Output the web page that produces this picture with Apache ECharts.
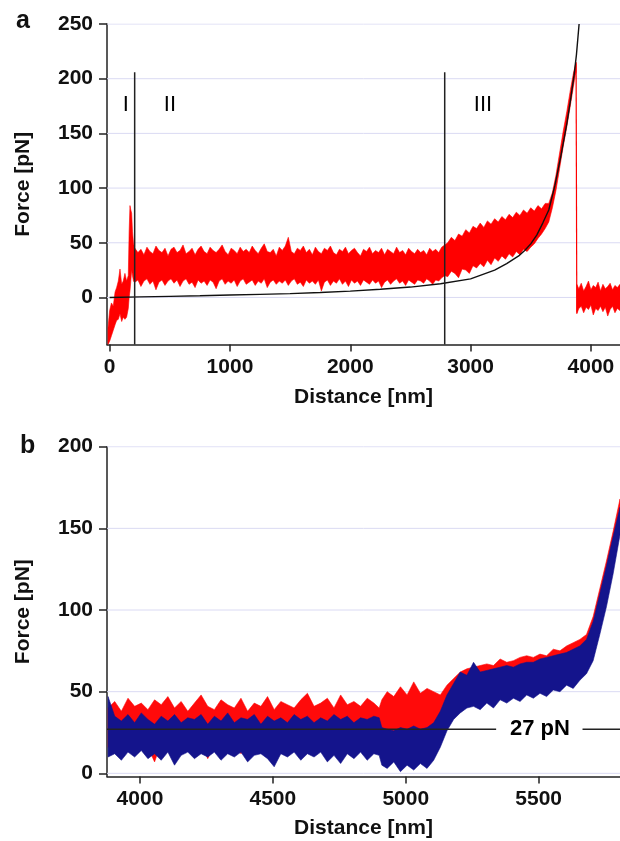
<!DOCTYPE html>
<html><head><meta charset="utf-8">
<script src="https://cdn.jsdelivr.net/npm/echarts@6/dist/echarts.min.js"></script>
<style>html,body{margin:0;padding:0;background:#fff}#c{width:620px;height:841px}</style>
</head><body><div id="c"></div>
<script>
// ---------- Panel a ----------
const aXTicks = [0, 1000, 2000, 3000, 4000];
const aYTicks = [0, 50, 100, 150, 200, 250];
// red trace, envelope of the noisy signal: [distance nm, lower pN, upper pN]
const aRed = [
  [-14, -43, -28], [0, -40, -12], [15, -35, -5], [30, -30, -8], [45, -25, 5], [58, -21, 9], [72, -20, 15],
  [86, -15, 26], [100, -22, 12], [113, -18, 15], [127, -20, 22], [141, -18, 15], [155, -10, 20], [162, 0, 60],
  [169, 6, 84], [176, 15, 80], [183, 25, 77], [190, 20, 60], [198, 15, 50], [205, 14, 46],
  [210, 14, 45], [235, 16, 41], [260, 10, 44], [285, 15, 39], [310, 17, 46], [335, 12, 42], [360, 15, 40],
  [385, 7, 47], [410, 14, 43], [435, 16, 41], [460, 11, 45], [485, 15, 38], [510, 17, 44], [535, 13, 46],
  [560, 16, 41], [585, 10, 43], [610, 15, 48], [635, 17, 40], [660, 12, 42], [685, 14, 45], [710, 9, 39],
  [735, 16, 44], [760, 13, 47], [785, 15, 42], [810, 11, 40], [835, 16, 46], [860, 14, 43], [885, 8, 41],
  [910, 15, 44], [935, 17, 48], [960, 12, 42], [985, 15, 39], [1010, 13, 45], [1035, 16, 43], [1060, 10, 40],
  [1085, 15, 46], [1110, 17, 42], [1135, 12, 44], [1160, 14, 41], [1185, 16, 47], [1210, 11, 43], [1235, 15, 40],
  [1260, 13, 45], [1285, 17, 49], [1310, 9, 42], [1335, 14, 41], [1360, 16, 44], [1385, 12, 38], [1410, 15, 46],
  [1435, 13, 43], [1460, 16, 47], [1485, 11, 55], [1510, 15, 42], [1535, 17, 40], [1560, 12, 45], [1585, 14, 43],
  [1610, 10, 47], [1635, 16, 41], [1660, 13, 44], [1685, 15, 39], [1710, 12, 46], [1735, 16, 42], [1760, 6, 40],
  [1785, 14, 45], [1810, 16, 43], [1835, 11, 47], [1860, 15, 41], [1885, 13, 39], [1910, 17, 44], [1935, 12, 42],
  [1960, 15, 46], [1985, 10, 40], [2010, 16, 43], [2035, 13, 45], [2060, 15, 41], [2085, 11, 38], [2110, 16, 44],
  [2135, 14, 42], [2160, 12, 46], [2185, 16, 40], [2210, 13, 43], [2235, 15, 41], [2260, 9, 45], [2285, 14, 39],
  [2310, 16, 44], [2335, 12, 42], [2360, 15, 40], [2385, 17, 46], [2410, 13, 41], [2435, 15, 43], [2460, 11, 39],
  [2485, 16, 45], [2510, 14, 42], [2535, 12, 40], [2560, 16, 44], [2585, 15, 41], [2610, 13, 43], [2635, 17, 39],
  [2660, 15, 45], [2685, 12, 42], [2710, 16, 44], [2735, 15, 41], [2760, 18, 46], [2785, 20, 48],
  [2810, 19, 50], [2840, 24, 55], [2870, 22, 52], [2900, 18, 58], [2930, 26, 56], [2960, 25, 62], [2990, 22, 59],
  [3020, 29, 65], [3050, 27, 63], [3080, 31, 68], [3110, 28, 64], [3140, 34, 70], [3170, 30, 67], [3200, 36, 72],
  [3230, 33, 69], [3260, 38, 74], [3290, 35, 71], [3320, 40, 76], [3350, 37, 73], [3380, 42, 78], [3410, 39, 75],
  [3440, 44, 80], [3470, 42, 77], [3500, 46, 82], [3530, 49, 79], [3560, 54, 84], [3590, 58, 81], [3620, 63, 86],
  [3650, 69, 86], [3680, 82, 96], [3710, 98, 112], [3740, 118, 132], [3770, 138, 152], [3800, 156, 170],
  [3830, 176, 190], [3855, 193, 205], [3870, 203, 212], [3878, 206, 215]];
// vertical drop at the rupture
const aDrop = [[3877, 214], [3883, -14]];
// signal after the rupture: [distance, lower, upper]
const aPost = [
  [3883, -15, 12], [3900, -10, 8], [3920, -8, 13], [3940, -14, 6], [3960, -9, 10], [3980, -11, 15], [4000, -7, 7],
  [4020, -16, 11], [4040, -10, 9], [4060, -12, 14], [4080, -8, 6], [4100, -13, 12], [4120, -9, 8], [4140, -17, 10],
  [4160, -11, 13], [4180, -8, 7], [4200, -14, 11], [4220, -10, 9], [4242, -12, 12]];
// black fit curve
const aFitX = [0, 250, 500, 750, 1000, 1250, 1500, 1750, 2000, 2250, 2500, 2750, 3000, 3200, 3300, 3400, 3450, 3500, 3550, 3600, 3650, 3700, 3750, 3800, 3830, 3860, 3880, 3902];
const aFitY = [0, 0.5, 1, 1.5, 2.2, 2.8, 3.5, 4.5, 5.8, 7.5, 9.5, 12.5, 17, 25, 31, 38, 43, 49, 57, 68, 80, 102, 129, 159, 180, 203, 222, 250];
// region boundaries and labels
const aBounds = [208, 2785];
const aBoundTop = 206;
const aRegionLabels = ['I', 'II', 'III'];
const aRegionX = [135, 501, 3103];
const aRegionY = 176;

// ---------- Panel b ----------
const bXTicks = [4000, 4500, 5000, 5500];
const bYTicks = [0, 50, 100, 150, 200];
// red trace envelope: [distance, lower, upper]
const bRed = [
  [3880, 16, 40], [3905, 18, 44], [3930, 15, 38], [3955, 19, 46], [3980, 17, 41], [4005, 18, 43], [4030, 16, 39],
  [4055, 7, 45], [4080, 19, 42], [4105, 17, 47], [4130, 18, 40], [4155, 16, 44], [4180, 19, 38], [4205, 17, 43],
  [4230, 18, 48], [4255, 9, 41], [4280, 17, 39], [4305, 19, 45], [4330, 16, 42], [4355, 18, 40], [4380, 12, 46],
  [4405, 17, 38], [4430, 19, 43], [4455, 16, 41], [4480, 18, 47], [4505, 17, 39], [4530, 19, 44], [4555, 12, 42],
  [4580, 18, 40], [4605, 16, 45], [4630, 19, 49], [4655, 17, 41], [4680, 18, 43], [4705, 16, 46], [4730, 19, 40],
  [4755, 17, 48], [4780, 18, 42], [4805, 16, 44], [4830, 19, 41], [4855, 17, 46], [4880, 18, 43], [4900, 17, 40],
  [4910, 25, 45], [4930, 24, 50], [4955, 26, 47], [4980, 23, 53], [5005, 25, 48], [5030, 24, 56], [5055, 26, 49],
  [5080, 25, 52], [5105, 27, 50], [5130, 30, 48], [5155, 34, 54], [5180, 38, 58], [5205, 42, 62], [5230, 43, 64],
  [5255, 44, 65], [5280, 44, 66], [5305, 45, 67], [5330, 46, 66], [5355, 46, 70], [5380, 47, 68], [5405, 48, 69],
  [5430, 49, 71], [5455, 50, 72], [5480, 50, 71], [5505, 51, 73], [5530, 52, 72], [5555, 53, 76], [5580, 54, 75],
  [5605, 56, 78], [5630, 57, 80], [5655, 59, 82], [5680, 63, 85], [5705, 73, 96], [5730, 88, 113],
  [5755, 106, 130], [5780, 126, 148], [5806, 150, 168]];
// blue trace envelope: [distance, lower, upper]
const bBlue = [
  [3880, 10, 47], [3905, 12, 35], [3930, 8, 32], [3955, 13, 36], [3980, 10, 31], [4005, 14, 37], [4030, 9, 33],
  [4055, 12, 30], [4080, 8, 35], [4105, 13, 32], [4130, 5, 36], [4155, 11, 31], [4180, 13, 34], [4205, 9, 33],
  [4230, 12, 36], [4255, 10, 30], [4280, 13, 35], [4305, 8, 32], [4330, 12, 37], [4355, 10, 31], [4380, 13, 34],
  [4405, 7, 33], [4430, 11, 36], [4455, 12, 30], [4480, 9, 35], [4505, 4, 32], [4530, 12, 34], [4555, 10, 31],
  [4580, 13, 36], [4605, 8, 33], [4630, 12, 35], [4655, 10, 31], [4680, 13, 34], [4705, 7, 32], [4730, 11, 36],
  [4755, 6, 33], [4780, 12, 35], [4805, 9, 31], [4830, 13, 34], [4855, 8, 33], [4880, 12, 35], [4900, 11, 34],
  [4910, 5, 28], [4930, 3, 27], [4955, 7, 26], [4980, 1, 28], [5005, 5, 27], [5030, 2, 29], [5055, 6, 27],
  [5080, 3, 28], [5105, 8, 31], [5130, 16, 38], [5155, 26, 48], [5180, 33, 55], [5205, 37, 62], [5230, 40, 60],
  [5255, 41, 68], [5280, 39, 62], [5305, 43, 63], [5330, 40, 64], [5355, 45, 65], [5380, 43, 66], [5405, 46, 65],
  [5430, 44, 67], [5455, 48, 68], [5480, 46, 68], [5505, 49, 70], [5530, 47, 71], [5555, 51, 72], [5580, 50, 73],
  [5605, 54, 74], [5630, 52, 76], [5655, 57, 78], [5680, 61, 82], [5705, 69, 93], [5730, 85, 110],
  [5755, 102, 127], [5780, 122, 145], [5806, 146, 163]];
const bRefForce = 27;
const bRefSegments = [[3876, 5340], [5665, 5806]];
const bRefLabel = '27 pN';
const bRefLabelX = 5505;

const FONT = 'Liberation Sans, Arial, Helvetica, sans-serif';
const GRID_COLOR = '#dadaf3';

function band(rows, color, idx, z) {
  return {
    type: 'custom', xAxisIndex: idx, yAxisIndex: idx, z: z, silent: true, clip: true,
    encode: { x: 0, y: [1, 2] },
    data: rows,
    renderItem: function (params, api) {
      if (params.dataIndex !== 0) return null;
      const top = [], bot = [];
      for (let i = 0; i < rows.length; i++) {
        top.push(api.coord([rows[i][0], rows[i][2]]));
        bot.push(api.coord([rows[i][0], rows[i][1]]));
      }
      return { type: 'polygon', shape: { points: top.concat(bot.reverse()) },
        style: { fill: color, stroke: color, lineWidth: 0.6 } };
    }
  };
}
function lineS(pts, idx, color, width, z) {
  return { type: 'line', xAxisIndex: idx, yAxisIndex: idx, data: pts, showSymbol: false, symbol: 'none',
    silent: true, z: z, lineStyle: { color: color, width: width }, animation: false };
}
// text anchored at data coordinates
function textS(idx, pts, texts, size, weight) {
  return {
    type: 'custom', xAxisIndex: idx, yAxisIndex: idx, z: 10, silent: true,
    data: pts.map((p, i) => [p[0], p[1], i]),
    renderItem: function (params, api) {
      const c = api.coord([api.value(0), api.value(1)]);
      return { type: 'text', x: c[0], y: c[1],
        style: { text: texts[api.value(2)], fill: '#000', align: 'center', verticalAlign: 'middle',
          font: weight + ' ' + size + 'px ' + FONT } };
    }
  };
}
const plain = v => String(v);
function xAxis(idx, min, max, ticks, gap) {
  return { type: 'value', gridIndex: idx, min: min, max: max, name: 'Distance [nm]', nameLocation: 'middle',
    nameGap: gap, nameTextStyle: { fontFamily: FONT, fontSize: 21, fontWeight: 'bold', color: '#111' },
    axisLine: { show: true, onZero: false, lineStyle: { color: '#222', width: 1.5 } },
    axisTick: { show: true, length: 7, customValues: ticks, lineStyle: { color: '#222', width: 1.5 } },
    axisLabel: { customValues: ticks, formatter: plain, margin: 12, fontFamily: FONT, fontSize: 21, fontWeight: 'bold', color: '#111' },
    splitLine: { show: false } };
}
function yAxis(idx, min, max, ticks) {
  return { type: 'value', gridIndex: idx, min: min, max: max, name: 'Force [pN]', nameLocation: 'middle',
    nameRotate: 90, nameGap: 73, nameTextStyle: { fontFamily: FONT, fontSize: 21, fontWeight: 'bold', color: '#111' },
    axisLine: { show: true, onZero: false, lineStyle: { color: '#222', width: 1.5 } },
    axisTick: { show: true, length: 8, customValues: ticks, lineStyle: { color: '#222', width: 1.5 } },
    axisLabel: { customValues: ticks, formatter: plain, margin: 14, fontFamily: FONT, fontSize: 21, fontWeight: 'bold', color: '#111' },
    splitLine: { show: false } };
}

const series = [];
// horizontal grid lines (behind the traces)
aYTicks.forEach(v => series.push(lineS([[-22, v], [4242, v]], 0, GRID_COLOR, 1, 0)));
bYTicks.forEach(v => series.push(lineS([[3876, v], [5806, v]], 1, GRID_COLOR, 1, 0)));
// panel a
series.push(band(aRed, '#ff0000', 0, 3));
series.push(lineS(aDrop, 0, '#ff0000', 1.2, 3));
series.push(band(aPost, '#ff0000', 0, 3));
series.push(lineS(aFitX.map((x, i) => [x, aFitY[i]]), 0, '#111111', 1.4, 5));
aBounds.forEach(b => series.push(lineS([[b, -43], [b, aBoundTop]], 0, '#222222', 1.5, 5)));
series.push(textS(0, aRegionX.map(x => [x, aRegionY]), aRegionLabels, 22, '500'));
// panel b
series.push(band(bRed, '#ff0a0a', 1, 3));
series.push(band(bBlue, '#14148c', 1, 4));
bRefSegments.forEach(s => series.push(lineS([[s[0], bRefForce], [s[1], bRefForce]], 1, '#222222', 1.3, 6)));
series.push(textS(1, [[bRefLabelX, bRefForce]], [bRefLabel], 22, 'bold'));

const chart = echarts.init(document.getElementById('c'), null, { renderer: 'canvas' });
chart.setOption({
  animation: false,
  backgroundColor: '#ffffff',
  title: [
    { text: 'a', left: 11, top: 4, textStyle: { fontFamily: FONT, fontSize: 25, fontWeight: 'bold', color: '#111' } },
    { text: 'b', left: 15, top: 429, textStyle: { fontFamily: FONT, fontSize: 25, fontWeight: 'bold', color: '#111' } }
  ],
  grid: [
    { left: 107, right: 0, top: 24, height: 320.5 },
    { left: 107, right: 0, top: 446.7, height: 329.9 }
  ],
  xAxis: [xAxis(0, -22, 4242, aXTicks, 42), xAxis(1, 3876, 5806, bXTicks, 41)],
  yAxis: [yAxis(0, -43, 250, aYTicks), yAxis(1, -2, 200, bYTicks)],
  series: series
});
</script></body></html>
